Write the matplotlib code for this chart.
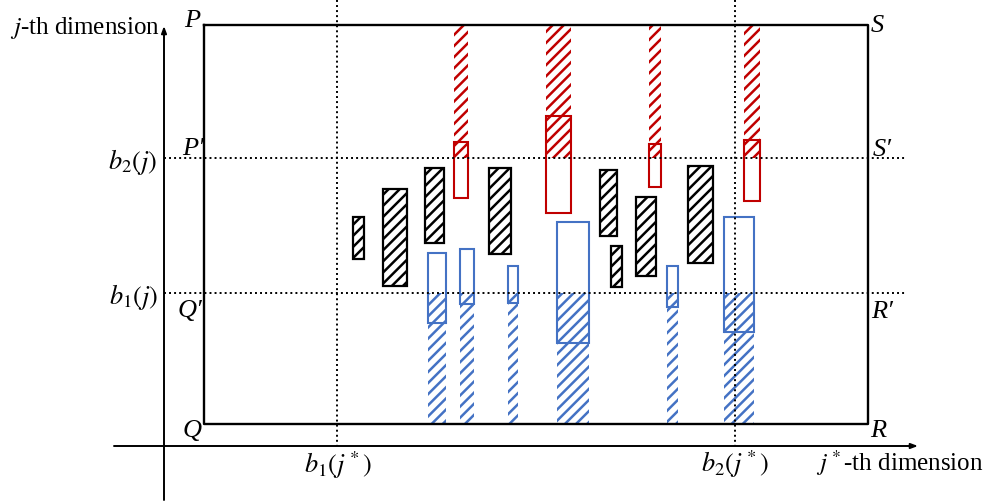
import matplotlib
matplotlib.use("Agg")
import matplotlib.pyplot as plt
from matplotlib.patches import Rectangle

plt.rcParams['font.family'] = ['Liberation Serif', 'DejaVu Serif']
plt.rcParams['mathtext.fontset'] = 'stix'
plt.rcParams['hatch.linewidth'] = 1.8

W, H = 985, 503

# Frame geometry (pixel-like diagram units)
box_left, box_right, box_top, box_bottom = 204, 868, 25, 424
b2_j, b1_j = 158, 293          # horizontal dotted levels
b1_js, b2_js = 337, 735        # vertical dotted levels
axis_x, axis_y = 164, 446

# Black hatched boxes: (x0, x1, y_top, y_bottom)
black_x0 = [353, 383, 425, 489, 600, 611, 636, 688]
black_x1 = [364, 407, 444, 511, 617, 622, 656, 713]
black_top = [217, 189, 168, 168, 170, 246, 197, 166]
black_bot = [259, 286, 243, 254, 236, 287, 276, 263]

# Red columns: hatched from top to b2(j), with outline boxes
red_x0 = [454, 546, 649, 744]
red_x1 = [468, 571, 661, 760]
red_top = [142, 116, 144, 140]
red_bot = [198, 213, 187, 201]

# Blue columns: hatched from b1(j) to bottom, with outline boxes
blue_x0 = [428, 460, 508, 557, 667, 724]
blue_x1 = [446, 474, 518, 589, 678, 754]
blue_top = [253, 249, 266, 222, 266, 217]
blue_bot = [323, 304, 303, 343, 307, 332]

RED = '#C00000'
BLUE = '#4472C4'

fig = plt.figure(figsize=(W / 100, H / 100), dpi=100)
ax = fig.add_axes([0, 0, 1, 1])
ax.set_xlim(0, W)
ax.set_ylim(H, 0)
ax.axis('off')

dot = dict(color='black', lw=1.4, linestyle=(0, (1, 1.6)))
ax.plot([axis_x, 905], [b2_j, b2_j], **dot)
ax.plot([axis_x, 905], [b1_j, b1_j], **dot)
ax.plot([b1_js, b1_js], [0, axis_y], **dot)
ax.plot([b2_js, b2_js], [0, axis_y], **dot)

# hatched regions
for x0, x1 in zip(red_x0, red_x1):
    ax.add_patch(Rectangle((x0, box_top), x1 - x0, b2_j - box_top, fill=False,
                           hatch='///', edgecolor=RED, lw=0))
for x0, x1 in zip(blue_x0, blue_x1):
    ax.add_patch(Rectangle((x0, b1_j), x1 - x0, box_bottom - b1_j, fill=False,
                           hatch='///', edgecolor=BLUE, lw=0))
for x0, x1, t, b in zip(black_x0, black_x1, black_top, black_bot):
    ax.add_patch(Rectangle((x0, t), x1 - x0, b - t, facecolor='white',
                           hatch='///', edgecolor='black', lw=1.6))
for x0, x1, t, b in zip(red_x0, red_x1, red_top, red_bot):
    ax.add_patch(Rectangle((x0, t), x1 - x0, b - t, fill=False,
                           edgecolor=RED, lw=1.5))
for x0, x1, t, b in zip(blue_x0, blue_x1, blue_top, blue_bot):
    ax.add_patch(Rectangle((x0, t), x1 - x0, b - t, fill=False,
                           edgecolor=BLUE, lw=1.5))

# main box
ax.plot([box_left, box_right, box_right, box_left, box_left],
        [box_top, box_top, box_bottom, box_bottom, box_top], color='black', lw=1.7)

# axes arrows
arr = dict(arrowstyle='-|>,head_length=0.4,head_width=0.15', color='black', lw=1.4,
           shrinkA=0, shrinkB=0)
ax.annotate('', xy=(axis_x, 26), xytext=(axis_x, 500), arrowprops=arr)
ax.annotate('', xy=(918, axis_y), xytext=(114, axis_y), arrowprops=arr)

fs = 19
lab = dict(ha='center', va='center', fontsize=fs, fontstyle='italic')
ax.text(160, 28, r'$j$-th dimension', ha='right', va='center', fontsize=18)
ax.text(983, 463, r'$j^*$-th dimension', ha='right', va='center', fontsize=18)
ax.text(192, 21, 'P', **lab)
ax.text(193, 149, 'P\u2032', **lab)
ax.text(190, 311, 'Q\u2032', **lab)
ax.text(192, 431, 'Q', **lab)
ax.text(877, 26, 'S', **lab)
ax.text(882, 150, 'S\u2032', **lab)
ax.text(882, 312, 'R\u2032', **lab)
ax.text(878, 431, 'R', **lab)
ax.text(157, 162, r'$b_2(j)$', ha='right', va='center', fontsize=fs)
ax.text(158, 297, r'$b_1(j)$', ha='right', va='center', fontsize=fs)
ax.text(338, 465, r'$b_1(j^*)$', ha='center', va='center', fontsize=fs)
ax.text(735, 464, r'$b_2(j^*)$', ha='center', va='center', fontsize=fs)

fig.savefig('out.png', dpi=100)
